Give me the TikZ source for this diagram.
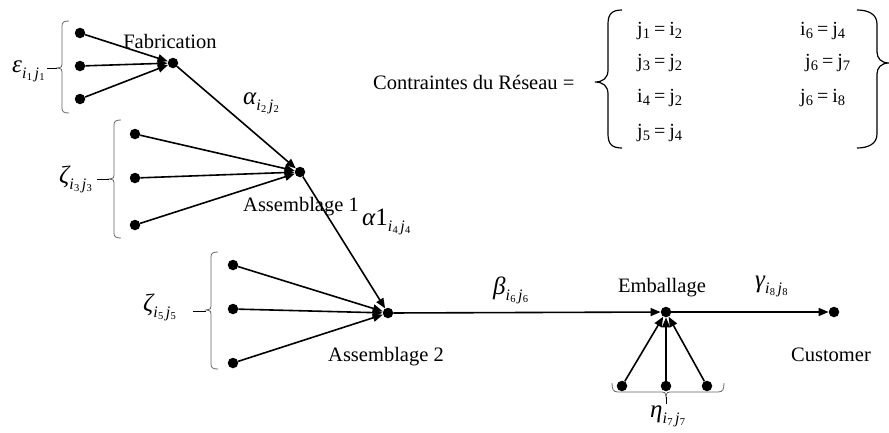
\documentclass[tikz,border=0pt]{standalone}
\usepackage{fontspec}
\setmainfont{Liberation Serif}
\usetikzlibrary{arrows.meta}
\newcommand{\grpbrace}[4]{% x, ytop, ymid, ybot  (small "{" brace)
  \draw[smallbr] ({#1+7},{#2}) .. controls ({#1+2},{#2}) and ({#1},{#2+1}) .. ({#1},{#2+5})
    -- ({#1},{#3-4}) .. controls ({#1},{#3-1}) .. ({#1-5},{#3})
    .. controls ({#1},{#3+1}) .. ({#1},{#3+4})
    -- ({#1},{#4-5}) .. controls ({#1},{#4-1}) and ({#1+2},{#4}) .. ({#1+7},{#4});}
\newcommand{\sbs}[1]{\raisebox{-0.35ex}{\fontsize{14.5}{14}\selectfont #1}}
\newcommand{\ceq}[4]{#1\sbs{#2}\hspace{4pt}=\hspace{4pt}#3\sbs{#4}}
\newcommand{\sdig}[1]{\raisebox{-2pt}{\upshape\fontsize{10.5}{10}\selectfont #1}}
\newcommand{\sij}[2]{\raisebox{-6pt}{\fontsize{16}{16}\selectfont\itshape i\kern0.3pt\sdig{#1}\kern2.5pt j\kern0.3pt\sdig{#2}}}
\newcommand{\glab}[3]{{\fontsize{25}{28}\selectfont\itshape #1}\sij{#2}{#3}}
\begin{document}
\begin{tikzpicture}[x=1pt,y=-1pt,
  dot/.style={circle,fill=black,inner sep=0pt,minimum size=10.5pt},
  arr/.style={line width=1.6pt,-{Triangle[length=10pt,width=8pt]}},
  smallbr/.style={draw=black!60,line width=0.8pt},
  bigbr/.style={draw=black,line width=1.2pt},
  txt/.style={inner sep=0pt,font=\fontsize{20.5}{24}\selectfont},
  gl/.style={inner sep=0pt,anchor=base west},
  ctxt/.style={inner sep=0pt,anchor=base west,font=\fontsize{20}{22}\selectfont}]
\useasboundingbox (0,0) rectangle (889,432);

% --- Fabrication group
\node[dot] (f1) at (80,33) {};
\node[dot] (f2) at (80,66) {};
\node[dot] (f3) at (80,99) {};
\node[dot] (fh) at (173,63) {};
\draw[arr] (f1) -- (fh);
\draw[arr] (f2) -- (fh);
\draw[arr] (f3) -- (fh);
\node[txt] (fabt) at (170,41) {Fabrication};
\grpbrace{62}{21}{68}{113}
\node[gl] (eps) at (12,72) {\glab{ε}{1}{1}};
\coordinate (e1) at (47,68);
\coordinate (e2) at (57,68);
\draw[line width=1pt] (e1) -- (e2);

% --- Assemblage 1 group
\node[dot] (a1) at (135,134) {};
\node[dot] (a2) at (135,178) {};
\node[dot] (a3) at (135,225) {};
\node[dot] (ah) at (300,172) {};
\draw[arr] (a1) -- (ah);
\draw[arr] (a2) -- (ah);
\draw[arr] (a3) -- (ah);
\draw[arr] (fh) -- (ah);
\node[txt] (a1t) at (301,207) {Assemblage 1};
\grpbrace{114}{120}{179}{238}
\node[gl] (zeta3) at (59,183) {\glab{ζ}{3}{3}};
\coordinate (z3a) at (97,179);
\coordinate (z3b) at (109,179);
\draw[line width=1pt] (z3a) -- (z3b);
\node[gl] (alpha2) at (243,104) {\glab{α}{2}{2}};

% --- Assemblage 2 group
\node[dot] (b1) at (233,265) {};
\node[dot] (b2) at (233,309) {};
\node[dot] (b3) at (233,363) {};
\node[dot] (bh) at (388,313) {};
\draw[arr] (b1) -- (bh);
\draw[arr] (b2) -- (bh);
\draw[arr] (b3) -- (bh);
\draw[arr] (ah) -- (bh);
\node[txt] (a2t) at (386,357) {Assemblage 2};
\grpbrace{211}{252}{310}{369}
\node[gl] (zeta5) at (143,311) {\glab{ζ}{5}{5}};
\coordinate (z5a) at (193,311);
\coordinate (z5b) at (206,311);
\draw[line width=1pt] (z5a) -- (z5b);
\node[gl] (alpha1) at (362,225) {\glab{α{\upshape 1}}{4}{4}};

% --- Emballage
\node[dot] (eh) at (666,312) {};
\node[dot] (c) at (834,312) {};
\draw[arr] (bh) -- (eh);
\draw[arr] (eh) -- (c);
\node[gl] (beta) at (493,294) {\glab{β}{6}{6}};
\node[gl] (gamma) at (755,287) {\glab{γ}{8}{8}};
\node[txt] (embt) at (662,288) {Emballage};
\node[txt] (cust) at (831,355) {Customer};
\node[dot] (d1) at (622,386) {};
\node[dot] (d2) at (666,386) {};
\node[dot] (d3) at (707,386) {};
\draw[arr] (d1) -- (eh);
\draw[arr] (d2) -- (eh);
\draw[arr] (d3) -- (eh);
\draw[smallbr] (612,383) .. controls (612,389) and (613,392) .. (618,392)
  -- (662,392) .. controls (665,392) .. (666,397)
  .. controls (667,392) .. (670,392) -- (718,392)
  .. controls (723,392) and (724,389) .. (724,383);
\coordinate (h1) at (666,397);
\coordinate (h2) at (666,404);
\draw[line width=0.9pt] (h1) -- (h2);
\node[gl] (eta) at (650,417) {\glab{η}{7}{7}};

% --- Constraints
\node[txt,anchor=base west] (ctitle) at (373,89) {Contraintes du R\'eseau =};
\draw[bigbr] (622,10) .. controls (612,10) and (608,14) .. (608,24)
  -- (608,70) .. controls (608,78) and (603,82) .. (595,82)
  .. controls (603,82) and (608,86) .. (608,94)
  -- (608,134) .. controls (608,144) and (612,148) .. (622,148);
\draw[bigbr] (857,10) .. controls (868,10) and (877,14) .. (877,24)
  -- (877,52) .. controls (877,58) and (881,63) .. (889,63)
  .. controls (881,63) and (877,68) .. (877,74)
  -- (877,134) .. controls (877,144) and (868,148) .. (857,148);
\node[ctxt] (c1) at (637,35) {\ceq{j}{1}{i}{2}};
\node[ctxt] (c2) at (637,67) {\ceq{j}{3}{j}{2}};
\node[ctxt] (c3) at (637,102) {\ceq{i}{4}{j}{2}};
\node[ctxt] (c4) at (637,137) {\ceq{j}{5}{j}{4}};
\node[ctxt] (c5) at (800,35) {\ceq{i}{6}{j}{4}};
\node[ctxt] (c6) at (805,67) {\ceq{j}{6}{j}{7}};
\node[ctxt] (c7) at (800,102) {\ceq{j}{6}{i}{8}};
\end{tikzpicture}
\end{document}
